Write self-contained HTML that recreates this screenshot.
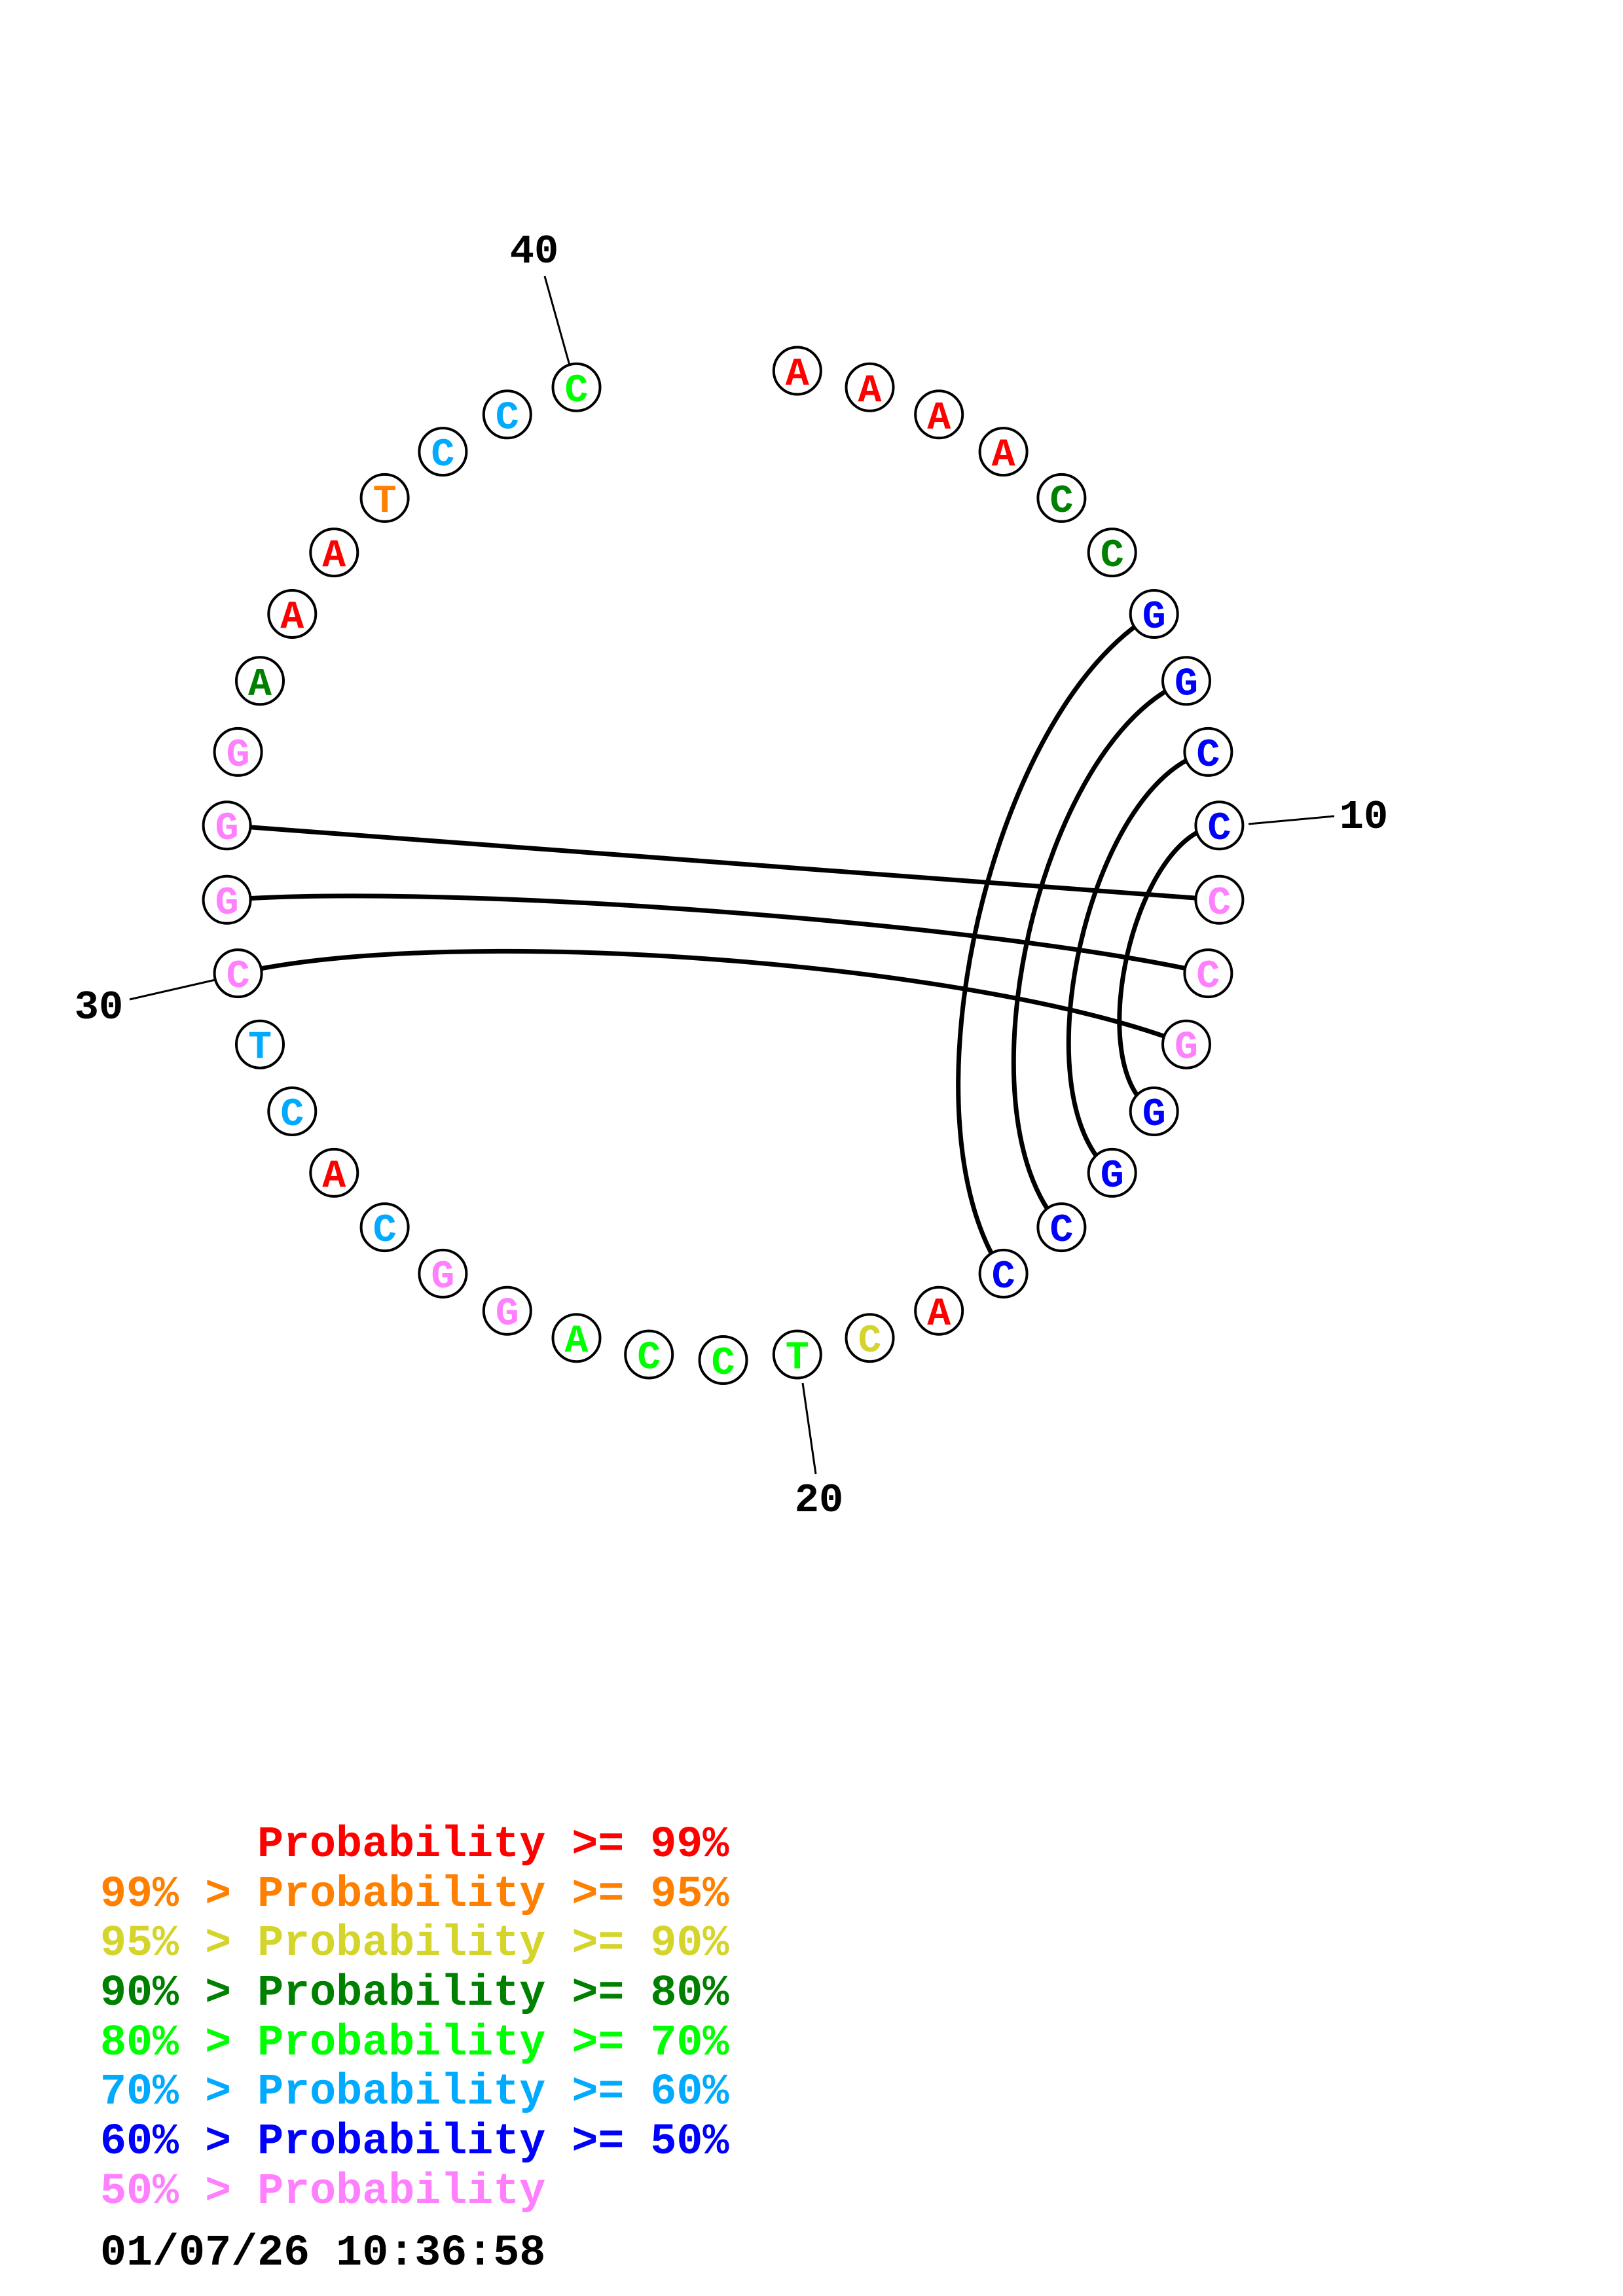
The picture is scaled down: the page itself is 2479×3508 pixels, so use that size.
<!DOCTYPE html>
<html><head><meta charset="utf-8"><style>
html,body{margin:0;padding:0;background:#fff}
svg{display:block}
.n{font-family:"Liberation Mono",monospace;font-weight:bold;font-size:60px;text-anchor:middle}
.t{font-family:"Liberation Mono",monospace;font-weight:bold;font-size:62px;text-anchor:middle}
.l{font-family:"Liberation Mono",monospace;font-weight:bold;font-size:66.7px}
</style></head><body>
<svg width="2479" height="3508" viewBox="0 0 2479 3508" xmlns="http://www.w3.org/2000/svg">
<rect width="2479" height="3508" fill="#fff"/>
<g transform="translate(-9,-12)">
<g fill="none" stroke="#000" stroke-width="7">
<path d="M1771.7 950 C1523.6 1093 1379 1718.6 1541.6 1957.9"/>
<path d="M1821 1052.3 C1597.8 1139.9 1467.1 1711.5 1630.4 1887.1"/>
<path d="M1854.4 1160.9 C1674 1202.4 1563.1 1688.8 1707.7 1803.9"/>
<path d="M1871.4 1273.2 C1741.4 1282.9 1659.5 1645.2 1771.7 1710"/>
<path d="M1871.4 1386.8 C1530.4 1361.2 696.7 1298.8 355.6 1273.2"/>
<path d="M1854.4 1499.1 C1521 1423 696.7 1361.2 355.6 1386.8"/>
<path d="M1821 1607.7 C1502.6 1482.7 706 1423 372.6 1499.1"/>
</g>
<g stroke="#000" stroke-width="3">
<line x1="841" y1="434" x2="879" y2="570"/>
<line x1="1916" y1="1271" x2="2047" y2="1259"/>
<line x1="1235" y1="2125" x2="1255" y2="2264"/>
<line x1="207" y1="1539" x2="338" y2="1509"/>
</g>
<g class="t" fill="#000">
<text x="825" y="413">40</text>
<text x="2092" y="1277">10</text>
<text x="1260" y="2321">20</text>
<text x="160" y="1568">30</text>
</g>
<g stroke="#000" stroke-width="4" fill="#fff">
<circle cx="1226.8" cy="578.5" r="36"/><circle cx="1337.5" cy="603.8" r="36"/><circle cx="1443.2" cy="645.3" r="36"/><circle cx="1541.6" cy="702.1" r="36"/><circle cx="1630.4" cy="772.9" r="36"/><circle cx="1707.7" cy="856.1" r="36"/><circle cx="1771.7" cy="950" r="36"/><circle cx="1821" cy="1052.3" r="36"/><circle cx="1854.4" cy="1160.9" r="36"/><circle cx="1871.4" cy="1273.2" r="36"/>
<circle cx="1871.4" cy="1386.8" r="36"/><circle cx="1854.4" cy="1499.1" r="36"/><circle cx="1821" cy="1607.7" r="36"/><circle cx="1771.7" cy="1710" r="36"/><circle cx="1707.7" cy="1803.9" r="36"/><circle cx="1630.4" cy="1887.1" r="36"/><circle cx="1541.6" cy="1957.9" r="36"/><circle cx="1443.2" cy="2014.7" r="36"/><circle cx="1337.5" cy="2056.2" r="36"/><circle cx="1226.8" cy="2081.5" r="36"/>
<circle cx="1113.5" cy="2090" r="36"/><circle cx="1000.2" cy="2081.5" r="36"/><circle cx="889.5" cy="2056.2" r="36"/><circle cx="783.8" cy="2014.7" r="36"/><circle cx="685.4" cy="1957.9" r="36"/><circle cx="596.6" cy="1887.1" r="36"/><circle cx="519.3" cy="1803.9" r="36"/><circle cx="455.3" cy="1710" r="36"/><circle cx="406" cy="1607.7" r="36"/><circle cx="372.6" cy="1499.1" r="36"/>
<circle cx="355.6" cy="1386.8" r="36"/><circle cx="355.6" cy="1273.2" r="36"/><circle cx="372.6" cy="1160.9" r="36"/><circle cx="406" cy="1052.3" r="36"/><circle cx="455.3" cy="950" r="36"/><circle cx="519.3" cy="856.1" r="36"/><circle cx="596.6" cy="772.9" r="36"/><circle cx="685.4" cy="702.1" r="36"/><circle cx="783.8" cy="645.3" r="36"/><circle cx="889.5" cy="603.8" r="36"/>
</g>
<g class="n">
<text x="1226.8" y="599.5" fill="#ff0000">A</text>
<text x="1337.5" y="624.8" fill="#ff0000">A</text>
<text x="1443.2" y="666.3" fill="#ff0000">A</text>
<text x="1541.6" y="723.1" fill="#ff0000">A</text>
<text x="1630.4" y="793.9" fill="#008000">C</text>
<text x="1707.7" y="877.1" fill="#008000">C</text>
<text x="1771.7" y="971" fill="#0000ff">G</text>
<text x="1821" y="1073.3" fill="#0000ff">G</text>
<text x="1854.4" y="1181.9" fill="#0000ff">C</text>
<text x="1871.4" y="1294.2" fill="#0000ff">C</text>
<text x="1871.4" y="1407.8" fill="#ff80ff">C</text>
<text x="1854.4" y="1520.1" fill="#ff80ff">C</text>
<text x="1821" y="1628.7" fill="#ff80ff">G</text>
<text x="1771.7" y="1731" fill="#0000ff">G</text>
<text x="1707.7" y="1824.9" fill="#0000ff">G</text>
<text x="1630.4" y="1908.1" fill="#0000ff">C</text>
<text x="1541.6" y="1978.9" fill="#0000ff">C</text>
<text x="1443.2" y="2035.7" fill="#ff0000">A</text>
<text x="1337.5" y="2077.2" fill="#d4d42a">C</text>
<text x="1226.8" y="2102.5" fill="#00ff00">T</text>
<text x="1113.5" y="2111" fill="#00ff00">C</text>
<text x="1000.2" y="2102.5" fill="#00ff00">C</text>
<text x="889.5" y="2077.2" fill="#00ff00">A</text>
<text x="783.8" y="2035.7" fill="#ff80ff">G</text>
<text x="685.4" y="1978.9" fill="#ff80ff">G</text>
<text x="596.6" y="1908.1" fill="#00aaff">C</text>
<text x="519.3" y="1824.9" fill="#ff0000">A</text>
<text x="455.3" y="1731" fill="#00aaff">C</text>
<text x="406" y="1628.7" fill="#00aaff">T</text>
<text x="372.6" y="1520.1" fill="#ff80ff">C</text>
<text x="355.6" y="1407.8" fill="#ff80ff">G</text>
<text x="355.6" y="1294.2" fill="#ff80ff">G</text>
<text x="372.6" y="1181.9" fill="#ff80ff">G</text>
<text x="406" y="1073.3" fill="#008000">A</text>
<text x="455.3" y="971" fill="#ff0000">A</text>
<text x="519.3" y="877.1" fill="#ff0000">A</text>
<text x="596.6" y="793.9" fill="#ff8000">T</text>
<text x="685.4" y="723.1" fill="#00aaff">C</text>
<text x="783.8" y="666.3" fill="#00aaff">C</text>
<text x="889.5" y="624.8" fill="#00ff00">C</text>
</g>
</g>
<g class="l">
<text x="393" y="2836" fill="#ff0000">Probability &gt;= 99%</text>
<text x="153" y="2912" fill="#ff8000">99% &gt; Probability &gt;= 95%</text>
<text x="153" y="2987" fill="#d4d42a">95% &gt; Probability &gt;= 90%</text>
<text x="153" y="3063" fill="#008000">90% &gt; Probability &gt;= 80%</text>
<text x="153" y="3139" fill="#00ff00">80% &gt; Probability &gt;= 70%</text>
<text x="153" y="3214" fill="#00aaff">70% &gt; Probability &gt;= 60%</text>
<text x="153" y="3290" fill="#0000ff">60% &gt; Probability &gt;= 50%</text>
<text x="153" y="3366" fill="#ff80ff">50% &gt; Probability</text>
<text x="153" y="3460" fill="#000">01/07/26 10:36:58</text>
</g>
</svg>
</body></html>
